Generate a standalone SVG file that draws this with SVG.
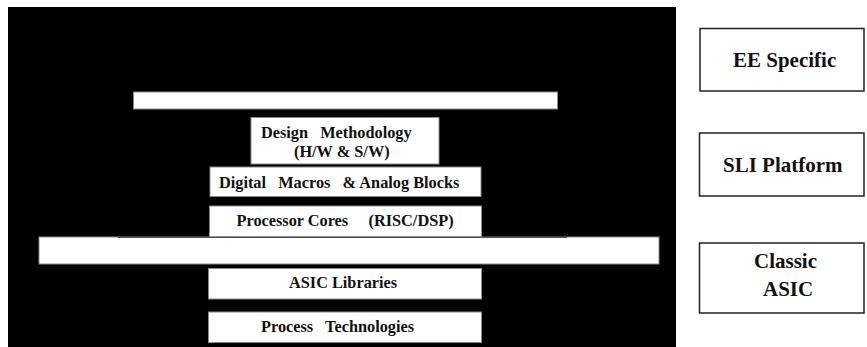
<svg xmlns="http://www.w3.org/2000/svg" width="867" height="347" viewBox="0 0 867 347">
<style>
.bg{fill:#000}
.lbox{fill:#fff;stroke:#8a8a8a;stroke-width:1}
.rbox{fill:#fff;stroke:#222;stroke-width:1.5}
.lt{font-family:'Liberation Serif','Times New Roman',serif;font-weight:bold;font-size:16.3px;fill:#111;white-space:pre}
.rt{font-family:'Liberation Serif','Times New Roman',serif;font-weight:bold;font-size:21px;fill:#111;white-space:pre}
</style>
<rect width="867" height="347" fill="#fff"/>
<rect class="bg" x="8" y="7" width="668" height="340"/>

<g id="top-bar"><rect class="lbox" x="133.5" y="92" width="424" height="17"/></g>

<g id="design-methodology">
<rect class="lbox" x="251" y="117.5" width="188" height="46.5"/>
<text class="lt" x="261" y="138.3" xml:space="preserve">Design   Methodology</text>
<text class="lt" x="294" y="157.3">(H/W &amp; S/W)</text>
</g>

<g id="digital-macros">
<rect class="lbox" x="210" y="167" width="271" height="29.5"/>
<text class="lt" x="219" y="188.3" xml:space="preserve">Digital   Macros   &amp; Analog Blocks</text>
</g>

<g id="processor-cores">
<rect class="lbox" x="209.5" y="206" width="272" height="31"/>
<text class="lt" x="236.5" y="226" xml:space="preserve">Processor Cores     (RISC/DSP)</text>
</g>

<g id="wide-bar">
<rect class="lbox" x="39" y="237" width="620" height="27"/>
</g>

<g id="connectors">
<line x1="118" y1="237.3" x2="567" y2="237.3" stroke="#333" stroke-width="1"/>
</g>

<g id="asic-libraries">
<rect class="lbox" x="208.5" y="268.5" width="273" height="30.5"/>
<text class="lt" x="289" y="288">ASIC Libraries</text>
</g>

<g id="process-technologies">
<rect class="lbox" x="208.5" y="312" width="273" height="30.5"/>
<text class="lt" x="261" y="332" xml:space="preserve">Process   Technologies</text>
</g>

<g id="ee-specific">
<rect class="rbox" x="700" y="28.5" width="164" height="62.5"/>
<text class="rt" x="733" y="66.5">EE Specific</text>
</g>

<g id="sli-platform">
<rect class="rbox" x="699.5" y="133" width="164.5" height="63"/>
<text class="rt" x="723" y="171.5">SLI Platform</text>
</g>

<g id="classic-asic">
<rect class="rbox" x="699.5" y="243" width="164.5" height="70"/>
<text class="rt" x="754" y="268">Classic</text>
<text class="rt" x="763" y="296">ASIC</text>
</g>
</svg>
